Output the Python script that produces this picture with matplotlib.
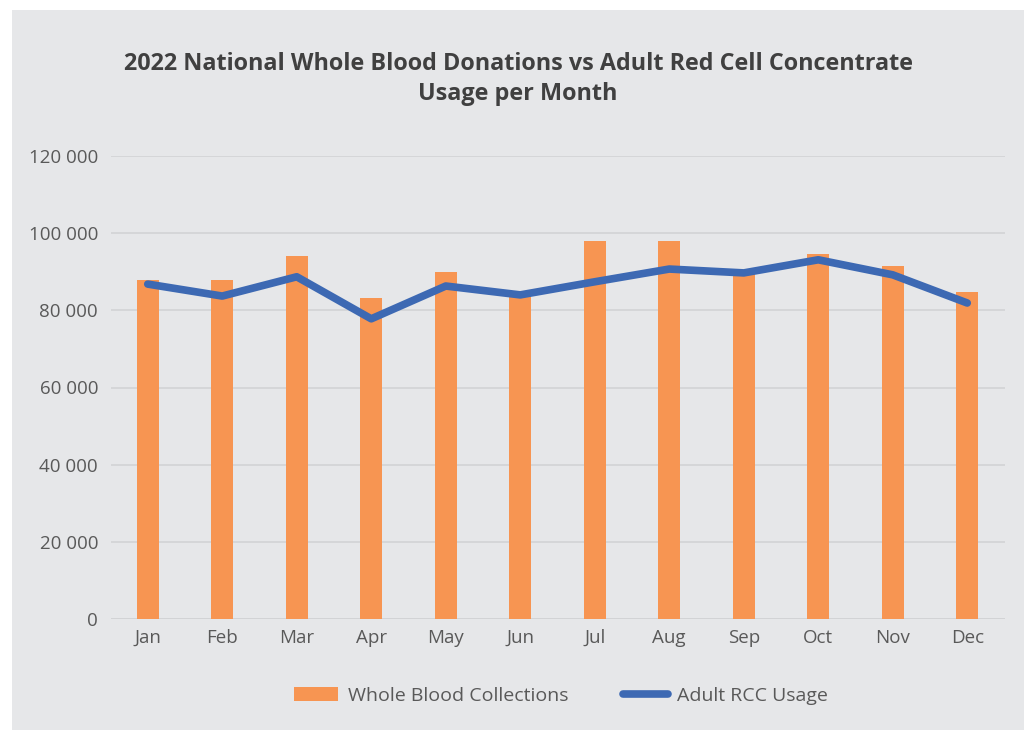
import matplotlib.pyplot as plt
from matplotlib.patches import Rectangle
from matplotlib.lines import Line2D
from matplotlib.ticker import FuncFormatter
import numpy as np

months = ['Jan', 'Feb', 'Mar', 'Apr', 'May', 'Jun', 'Jul', 'Aug', 'Sep', 'Oct', 'Nov', 'Dec']
whole_blood = [87900, 87900, 94100, 83200, 89900, 84000, 98000, 98000, 89500, 94600, 91500, 84800]
rcc_usage = [86800, 83700, 88700, 77800, 86300, 84000, 87400, 90700, 89700, 93100, 89200, 81900]

plt.rcParams['font.family'] = ['Open Sans', 'DejaVu Sans']

bg = '#E6E7E9'
orange = '#F79552'
blue = '#3D69B3'
text_col = '#595959'

fig = plt.figure(figsize=(10.29, 7.33), dpi=100)
fig.patch.set_facecolor('white')
# grey panel behind the chart
fig.patches.append(Rectangle((12 / 1029, 3 / 733), 1012 / 1029, 720 / 733,
                             transform=fig.transFigure, facecolor=bg, edgecolor='none', zorder=-10))

ax = fig.add_axes([110.5 / 1029, (733 - 619) / 733, 894 / 1029, 463 / 733])
ax.set_facecolor('none')

x = np.arange(len(months))
ax.bar(x, whole_blood, width=0.30, color=orange, zorder=2, label='Whole Blood Collections')
ax.plot(x, rcc_usage, color=blue, linewidth=5.5, solid_capstyle='round', solid_joinstyle='round',
        zorder=3, label='Adult RCC Usage')

ax.set_xlim(-0.5, len(months) - 0.5)
ax.set_ylim(0, 120000)
ax.set_yticks(np.arange(0, 120001, 20000))
ax.yaxis.set_major_formatter(FuncFormatter(lambda v, p: f'{int(v):,}'.replace(',', ' ')))
ax.set_xticks(x)
ax.set_xticklabels(months)
ax.grid(axis='y', color='#D2D3D5', linewidth=1.2, zorder=0)
ax.tick_params(axis='both', length=0, labelsize=13.5, labelcolor=text_col)
ax.tick_params(axis='y', pad=9)
ax.tick_params(axis='x', pad=7)
for s in ax.spines.values():
    s.set_visible(False)
ax.axhline(0, color='#D2D3D5', linewidth=1.2, zorder=1)

fig.text(518 / 1029, 1 - 79 / 733, '2022 National Whole Blood Donations vs Adult Red Cell Concentrate\nUsage per Month',
         ha='center', va='center', fontsize=16.8, fontweight='bold', color='#404040', linespacing=1.3)

handles = [Rectangle((0, 0), 1, 1, facecolor=orange),
           Line2D([0], [0], color=blue, linewidth=5.5, solid_capstyle='round')]
fig.legend(handles, ['Whole Blood Collections', 'Adult RCC Usage'], loc='center',
           bbox_to_anchor=(561 / 1029, 1 - 696 / 733), ncol=2, frameon=False,
           fontsize=14, labelcolor=text_col, handlelength=2.3, handletextpad=0.5, columnspacing=2.8)

fig.savefig('out.png', dpi=100, facecolor=fig.get_facecolor())
